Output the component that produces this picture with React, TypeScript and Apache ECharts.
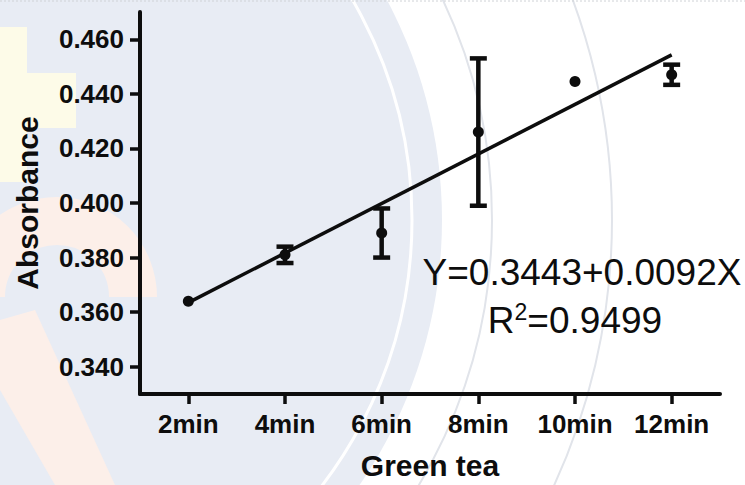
import React, { useEffect, useRef } from 'react';
import * as echarts from 'echarts';

// ---- data ----
const categories = ['2min', '4min', '6min', '8min', '10min', '12min'];
const means = [0.364, 0.381, 0.389, 0.426, 0.4445, 0.447];
const errors = [0, 0.003, 0.009, 0.027, 0, 0.0037];
const fitCategories = ['2min', '12min'];
const fitValues = [0.3635, 0.4543];
const yTicks = [0.34, 0.36, 0.38, 0.4, 0.42, 0.44, 0.46];
const yMin = 0.33;
const yMax = 0.47;
const xTitle = 'Green tea';
const yTitle = 'Absorbance';
const equationText = 'Y=0.3443+0.0092X';
const rSquaredValue = '=0.9499';

const FONT = "'Liberation Sans', Arial, Helvetica, sans-serif";
const INK = '#0d0d0d';

export default function App() {
  const ref = useRef<HTMLDivElement>(null);

  useEffect(() => {
    if (!ref.current) return;
    const chart = echarts.init(ref.current, null, { renderer: 'svg' });

    const errData = categories
      .map((c, i) => [i, means[i] - errors[i], means[i] + errors[i], errors[i]])
      .filter((d) => d[3] > 0);

    const bg = '#e8ecf4';
    const arcGray = '#e1e4ea';

    const option: any = {
      animation: false,
      backgroundColor: '#ffffff',
      textStyle: { fontFamily: FONT },
      grid: { left: 140, right: 25, top: 12, bottom: 85 },
      xAxis: {
        type: 'category',
        data: categories,
        boundaryGap: true,
        name: xTitle,
        nameLocation: 'middle',
        nameGap: 56,
        nameTextStyle: { fontSize: 30, fontWeight: 'bold', color: INK, fontFamily: FONT },
        axisLine: { show: true, onZero: false, lineStyle: { color: INK, width: 4 } },
        axisTick: { show: true, alignWithLabel: true, length: 10, lineStyle: { color: INK, width: 3.5 } },
        axisLabel: { interval: 0, margin: 17, fontSize: 26, fontWeight: 'bold', color: INK, fontFamily: FONT },
        splitLine: { show: false },
      },
      yAxis: {
        type: 'value',
        min: yMin,
        max: yMax,
        name: yTitle,
        nameLocation: 'middle',
        nameRotate: 90,
        nameGap: 98,
        nameTextStyle: { fontSize: 30, fontWeight: 'bold', color: INK, fontFamily: FONT },
        axisLine: { show: true, lineStyle: { color: INK, width: 4 } },
        axisTick: { show: true, customValues: yTicks, length: 10, lineStyle: { color: INK, width: 3.5 } },
        axisLabel: {
          customValues: yTicks,
          formatter: (v: number) => v.toFixed(3),
          margin: 16,
          fontSize: 26,
          fontWeight: 'bold',
          color: INK,
          fontFamily: FONT,
        },
        splitLine: { show: false },
      },
      graphic: {
        elements: [
          // faint watermark background
          { type: 'circle', z: -10, silent: true, shape: { cx: -25, cy: 220, r: 467 }, style: { fill: bg } },
          { type: 'circle', z: -9, silent: true, shape: { cx: -25, cy: 220, r: 437 }, style: { fill: 'none', stroke: '#ffffff', lineWidth: 3 } },
          { type: 'circle', z: -9, silent: true, shape: { cx: -25, cy: 220, r: 517 }, style: { fill: 'none', stroke: arcGray, lineWidth: 2 } },
          { type: 'circle', z: -9, silent: true, shape: { cx: -25, cy: 220, r: 637 }, style: { fill: 'none', stroke: arcGray, lineWidth: 2 } },
          { type: 'rect', z: -9, silent: true, shape: { x: 0, y: 27, width: 27, height: 155 }, style: { fill: '#fdfbe8' } },
          { type: 'rect', z: -9, silent: true, shape: { x: 27, y: 73, width: 49, height: 55 }, style: { fill: '#fdfbe8' } },
          { type: 'arc', z: -9, silent: true, shape: { cx: 57, cy: 297, r: 76, startAngle: Math.PI, endAngle: Math.PI * 2 }, style: { fill: 'none', stroke: '#fcefe9', lineWidth: 48 } },
          { type: 'polygon', z: -9, silent: true, shape: { points: [[0, 320], [35, 310], [115, 485], [55, 485], [0, 390]] }, style: { fill: '#fcefe9' } },
          { type: 'line', z: -9, silent: true, shape: { x1: 0, y1: 1, x2: 745, y2: 1 }, style: { stroke: '#cfd2d6', lineWidth: 1, lineDash: [2, 2] } },
          // regression annotation
          {
            type: 'text',
            z: 10,
            style: {
              text: equationText,
              x: 582,
              y: 272,
              align: 'center',
              verticalAlign: 'middle',
              fontSize: 37,
              fontFamily: FONT,
              fill: INK,
            },
          },
          {
            type: 'text',
            z: 10,
            style: {
              text: '{n|R}{s|2}{n|' + rSquaredValue + '}',
              x: 575,
              y: 320,
              align: 'center',
              verticalAlign: 'middle',
              fontFamily: FONT,
              fill: INK,
              rich: {
                n: { fontSize: 37, lineHeight: 40, fontFamily: FONT, fill: INK, color: INK },
                s: { fontSize: 23, lineHeight: 22, verticalAlign: 'top', fontFamily: FONT, fill: INK, color: INK },
              },
            },
          },
        ],
      },
      series: [
        {
          type: 'line',
          name: 'fit',
          data: fitCategories.map((c, i) => [c, fitValues[i]]),
          showSymbol: false,
          symbol: 'none',
          lineStyle: { color: INK, width: 3.5 },
          z: 3,
        },
        {
          type: 'custom',
          name: 'sd',
          data: errData,
          encode: { x: 0, y: [1, 2] },
          z: 4,
          renderItem: (params: any, api: any) => {
            const x = api.value(0);
            const lo = api.coord([x, api.value(1)]);
            const hi = api.coord([x, api.value(2)]);
            const hw = 8.5;
            const st = { stroke: INK, lineWidth: 4.5 };
            return {
              type: 'group',
              children: [
                { type: 'line', shape: { x1: hi[0], y1: hi[1], x2: lo[0], y2: lo[1] }, style: st },
                { type: 'line', shape: { x1: hi[0] - hw, y1: hi[1], x2: hi[0] + hw, y2: hi[1] }, style: st },
                { type: 'line', shape: { x1: lo[0] - hw, y1: lo[1], x2: lo[0] + hw, y2: lo[1] }, style: st },
              ],
            };
          },
        },
        {
          type: 'scatter',
          name: 'mean',
          data: categories.map((c, i) => [c, means[i]]),
          symbol: 'circle',
          symbolSize: 11,
          itemStyle: { color: INK, opacity: 1 },
          z: 5,
        },
      ],
    };

    chart.setOption(option);
    return () => chart.dispose();
  }, []);

  return (
    <div
      ref={ref}
      style={{ position: 'absolute', left: 0, top: 0, width: 745, height: 485 }}
    />
  );
}
